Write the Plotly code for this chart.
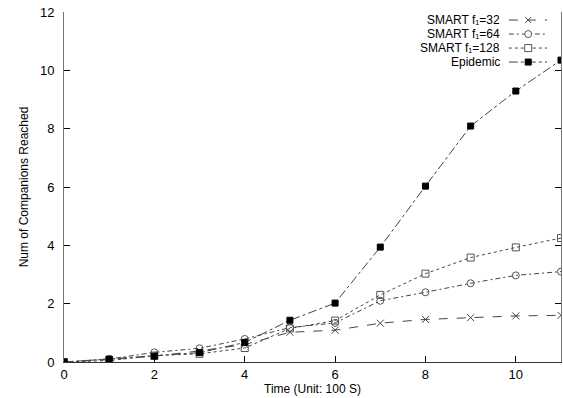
import plotly.graph_objects as go

time = [0, 1, 2, 3, 4, 5, 6, 7, 8, 9, 10, 11]
smart_32 = [0, 0.08, 0.2, 0.38, 0.6, 1.02, 1.09, 1.33, 1.46, 1.52, 1.58, 1.6]
smart_64 = [0, 0.1, 0.33, 0.47, 0.79, 1.18, 1.34, 2.1, 2.39, 2.7, 2.97, 3.1]
smart_128 = [0, 0.05, 0.22, 0.28, 0.48, 1.15, 1.42, 2.3, 3.03, 3.58, 3.93, 4.25]
epidemic = [0, 0.1, 0.2, 0.32, 0.67, 1.43, 2.02, 3.94, 6.03, 8.09, 9.29, 10.35]

names = ["SMART f\u2081=32", "SMART f\u2081=64", "SMART f\u2081=128", "Epidemic"]
series = [smart_32, smart_64, smart_128, epidemic]
symbols = ["x-thin-open", "circle-open", "square-open", "square"]
dashes = ["dash", "5px,3px,2px,3px", "dot", "dashdot"]
mcolors = ["#444", "#555", "#555", "#000"]

FONT = "Liberation Sans, Arial, sans-serif"

fig = go.Figure()
for n, s, sym, d, mc in zip(names, series, symbols, dashes, mcolors):
    fig.add_trace(go.Scatter(
        x=time, y=s, name=n, mode="lines+markers", showlegend=False,
        line=dict(color="#444", width=1, dash=d),
        marker=dict(symbol=sym, size=7 if sym != "square" else 6, color=mc,
                    line=dict(color=mc, width=1)),
    ))

# Legend (text right-aligned, key on the right), drawn as layout decoration
row_y = [0.977, 0.937, 0.897, 0.857]
text_x = 0.879
key_x0, key_x1, key_xc = 0.895, 0.972, 0.934
shapes = []
annotations = []
for i, (n, sym, d, mc) in enumerate(zip(names, symbols, dashes, mcolors)):
    y = row_y[i]
    annotations.append(dict(
        xref="paper", yref="paper", x=text_x, y=y, text=n, showarrow=False,
        xanchor="right", yanchor="middle", borderpad=0,
        font=dict(family=FONT, size=12, color="#000"),
    ))
    shapes.append(dict(type="line", xref="paper", yref="paper",
                       x0=key_x0, x1=key_x1, y0=y, y1=y,
                       line=dict(color="#444", width=1, dash=d)))
    common = dict(xref="paper", yref="paper", xsizemode="pixel", ysizemode="pixel",
                  xanchor=key_xc, yanchor=y)
    if sym == "x-thin-open":
        shapes.append(dict(type="line", x0=-3, x1=3, y0=-3, y1=3,
                           line=dict(color=mc, width=1), **common))
        shapes.append(dict(type="line", x0=-3, x1=3, y0=3, y1=-3,
                           line=dict(color=mc, width=1), **common))
    elif sym == "circle-open":
        shapes.append(dict(type="circle", x0=-3.5, x1=3.5, y0=-3.5, y1=3.5,
                           fillcolor="white", line=dict(color=mc, width=1), **common))
    elif sym == "square-open":
        shapes.append(dict(type="rect", x0=-3.5, x1=3.5, y0=-3.5, y1=3.5,
                           fillcolor="white", line=dict(color=mc, width=1), **common))
    else:
        shapes.append(dict(type="rect", x0=-3, x1=3, y0=-3, y1=3,
                           fillcolor=mc, line=dict(color=mc, width=1), **common))

fig.update_layout(
    width=563, height=398,
    margin=dict(l=64, r=2, t=12, b=36),
    plot_bgcolor="white", paper_bgcolor="white",
    font=dict(family=FONT, size=12, color="#000"),
    showlegend=False,
    shapes=shapes,
    annotations=annotations,
    xaxis=dict(
        range=[0, 11], tickvals=[0, 2, 4, 6, 8, 10], ticks="inside", ticklen=6,
        tickcolor="#000", showgrid=False, zeroline=False,
        showline=True, linecolor="#333", linewidth=1, mirror=False,
        tickfont=dict(size=13),
        title=dict(text="Time (Unit: 100 S)", font=dict(size=12), standoff=2),
    ),
    xaxis2=dict(overlaying="x", matches="x", side="top", range=[0, 11],
                tickvals=[0, 2, 4, 6, 8, 10], ticks="inside", ticklen=5,
                tickcolor="#000", showticklabels=False, showline=False,
                showgrid=False, zeroline=False),
    yaxis=dict(
        range=[0, 12], tickvals=[0, 2, 4, 6, 8, 10, 12], ticks="inside", ticklen=6,
        tickcolor="#000", showgrid=False, zeroline=False,
        showline=True, linecolor="#777", linewidth=1, mirror="ticks",
        tickfont=dict(size=13), ticklabelstandoff=6,
        title=dict(text="Num of Companions Reached", font=dict(size=12), standoff=8),
    ),
)
fig.write_html("out.html")
